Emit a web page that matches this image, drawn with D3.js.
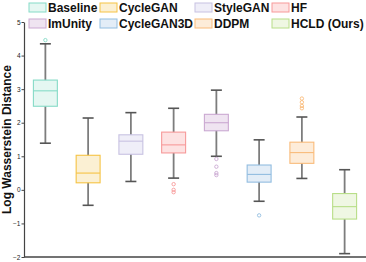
<!DOCTYPE html>
<html><head><meta charset="utf-8">
<script src="https://cdn.jsdelivr.net/npm/d3@7"></script>
<style>body{margin:0;background:#fff}svg{display:block}</style>
</head><body>
<script>
const categories = ["Baseline","CycleGAN","StyleGAN","HF","ImUnity","CycleGAN3D","DDPM","HCLD (Ours)"];
const whiskerLow = [1.39,-0.46,0.25,0.35,1.00,-0.34,0.34,-1.90];
const q1 =         [2.49, 0.21,1.06,1.10,1.76, 0.23,0.79,-0.87];
const medians =    [2.95, 0.50,1.45,1.34,2.00, 0.46,1.11,-0.50];
const q3 =         [3.27, 1.03,1.64,1.72,2.25, 0.74,1.42,-0.11];
const whiskerHigh =[4.35, 2.14,2.30,2.43,2.97, 1.49,2.17, 0.60];
const outliers = [[4.46],[],[],[0.17,0.0,-0.07],[0.92,0.69,0.50,0.44],[-0.76],[2.72,2.61,2.50,2.43],[]];
const strokeColors = ["#86dbc7","#f6c344","#c8c2e2","#f79a9a","#cba9d2","#92bde0","#f9bb7a","#b8de88"];
const fillColors =   ["#e5f7f2","#fbf0d3","#efeef8","#fde2e2","#efe4f1","#e3edf7","#fdecd9","#eff7e3"];
const yTicks = [-2,-1,0,1,2,3,4,5];

const W=366,H=262;
const svg=d3.select("body").append("svg").attr("width",W).attr("height",H);
const y=d3.scaleLinear().domain([-2,5]).range([257,22]);
const x=d3.scaleBand().domain(categories).range([24,366]).paddingInner(0.44).paddingOuter(0.22);
const bw=x.bandwidth();

// axes
const yAxis=d3.axisLeft(y).tickValues(yTicks).tickSize(2.5).tickSizeOuter(0).tickFormat(d3.format("d"));
const gy=svg.append("g").attr("transform","translate(24,0)").call(yAxis);
gy.select(".domain").attr("stroke","#444").attr("stroke-width",1.2);
gy.selectAll(".tick line").attr("stroke","#444");
gy.selectAll(".tick text").attr("font-family","Liberation Sans, Arial, sans-serif").attr("font-size",6.5).attr("fill","#222").attr("x",-3.5);
svg.append("line").attr("x1",24).attr("x2",366).attr("y1",257).attr("y2",257).attr("stroke","#444").attr("stroke-width",1.5);

svg.append("text").attr("transform","translate(11,"+(y(1.5))+") rotate(-90)")
  .attr("text-anchor","middle").attr("font-family","Liberation Sans, Arial, sans-serif")
  .attr("font-weight","bold").attr("font-size",12).attr("fill","#111").text("Log Wasserstein Distance");

categories.forEach((c,i)=>{
  const cx=x(c)+bw/2;
  const g=svg.append("g");
  g.append("line").attr("x1",cx).attr("x2",cx).attr("y1",y(whiskerLow[i])).attr("y2",y(whiskerHigh[i])).attr("stroke","#7d7d7d").attr("stroke-width",1.8);
  [whiskerLow[i],whiskerHigh[i]].forEach(v=>{
    g.append("line").attr("x1",cx-5.5).attr("x2",cx+5.5).attr("y1",y(v)).attr("y2",y(v)).attr("stroke","#555").attr("stroke-width",1.6);
  });
  g.append("rect").attr("x",x(c)).attr("width",bw).attr("y",y(q3[i])).attr("height",y(q1[i])-y(q3[i]))
    .attr("fill",fillColors[i]).attr("stroke",strokeColors[i]).attr("stroke-width",1.1);
  g.append("line").attr("x1",x(c)).attr("x2",x(c)+bw).attr("y1",y(medians[i])).attr("y2",y(medians[i])).attr("stroke",strokeColors[i]).attr("stroke-width",1.1);
  outliers[i].forEach(v=>{
    g.append("circle").attr("cx",cx).attr("cy",y(v)).attr("r",1.7).attr("fill","none").attr("stroke",strokeColors[i]).attr("stroke-width",0.9);
  });
});

// legend
const legX=[29,100,195,272], legY=[3,19];
categories.forEach((c,i)=>{
  const col=i%4,row=Math.floor(i/4);
  const g=svg.append("g").attr("transform",`translate(${legX[col]},${legY[row]})`);
  g.append("rect").attr("x",0).attr("y",0).attr("width",17).attr("height",9).attr("fill",fillColors[i]).attr("stroke",strokeColors[i]).attr("stroke-width",1);
  g.append("text").attr("x",19).attr("y",9).attr("font-family","Liberation Sans, Arial, sans-serif").attr("font-weight","bold").attr("font-size",12).attr("fill","#111").text(c);
});
</script>
</body></html>
